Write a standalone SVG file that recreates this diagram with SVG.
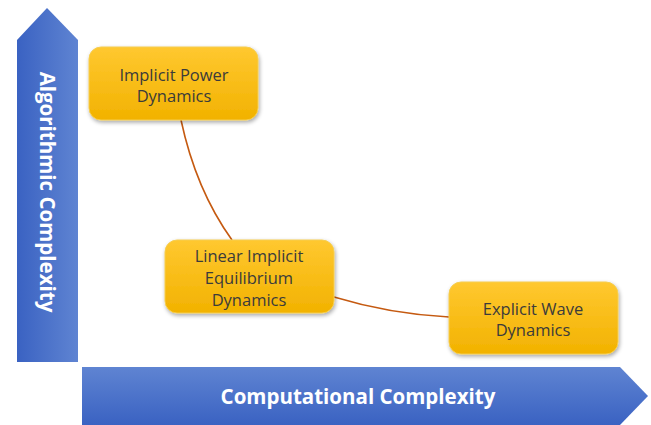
<svg xmlns="http://www.w3.org/2000/svg" width="651" height="425" viewBox="0 0 651 425">
<defs>
<linearGradient id="gv" x1="0" y1="0" x2="1" y2="0"><stop offset="0" stop-color="#3A62C2"/><stop offset="1" stop-color="#5F84D2"/></linearGradient>
<linearGradient id="gh" x1="0" y1="0" x2="0" y2="1"><stop offset="0" stop-color="#5F84D2"/><stop offset="1" stop-color="#3A62C2"/></linearGradient>
<linearGradient id="gold" x1="0" y1="0" x2="0" y2="1"><stop offset="0" stop-color="#FFC830"/><stop offset="1" stop-color="#F2B200"/></linearGradient>
<filter id="sh" x="-10%" y="-10%" width="130%" height="140%"><feGaussianBlur in="SourceAlpha" stdDeviation="2"/><feOffset dx="1" dy="2"/><feComponentTransfer><feFuncA type="linear" slope="0.35"/></feComponentTransfer><feMerge><feMergeNode/><feMergeNode in="SourceGraphic"/></feMerge></filter>
</defs>
<style>
.box{fill:url(#gold);stroke:#F5CD50;stroke-width:1;filter:url(#sh)}
.lbl{font-family:"Open Sans","Liberation Sans",sans-serif;font-size:16.5px;fill:#3B3B3B;text-anchor:middle}
.ax{font-family:"Open Sans","Liberation Sans",sans-serif;font-size:20.5px;font-weight:bold;fill:#FFFFFF;text-anchor:middle}
.con{fill:none;stroke:#C55A11;stroke-width:1.6}
</style>
<g id="axis-y">
<path d="M17,362 L17,40 L47,8 L78,40 L78,362 Z" fill="url(#gv)"/>
<text class="ax" transform="translate(40,192) rotate(90)">Algorithmic Complexity</text>
</g>
<g id="axis-x">
<path d="M82,367 L620,367 L648,396 L620,425 L82,425 Z" fill="url(#gh)"/>
<text class="ax" x="358" y="404">Computational Complexity</text>
</g>
<g id="connectors">
<path class="con" d="M181,120 Q196,190 232,240"/>
<path class="con" d="M334,297 Q390,314 449,317"/>
</g>
<g id="n1">
<rect class="box" x="89" y="47" width="169" height="73" rx="12"/>
<text class="lbl" x="174" y="81">Implicit Power</text>
<text class="lbl" x="174" y="102">Dynamics</text>
</g>
<g id="n2">
<rect class="box" x="165" y="240" width="169" height="73" rx="12"/>
<text class="lbl" x="249" y="262">Linear Implicit</text>
<text class="lbl" x="249" y="284">Equilibrium</text>
<text class="lbl" x="249" y="306">Dynamics</text>
</g>
<g id="n3">
<rect class="box" x="449" y="282" width="169" height="72" rx="12"/>
<text class="lbl" x="533" y="315">Explicit Wave</text>
<text class="lbl" x="533" y="336">Dynamics</text>
</g>
</svg>
